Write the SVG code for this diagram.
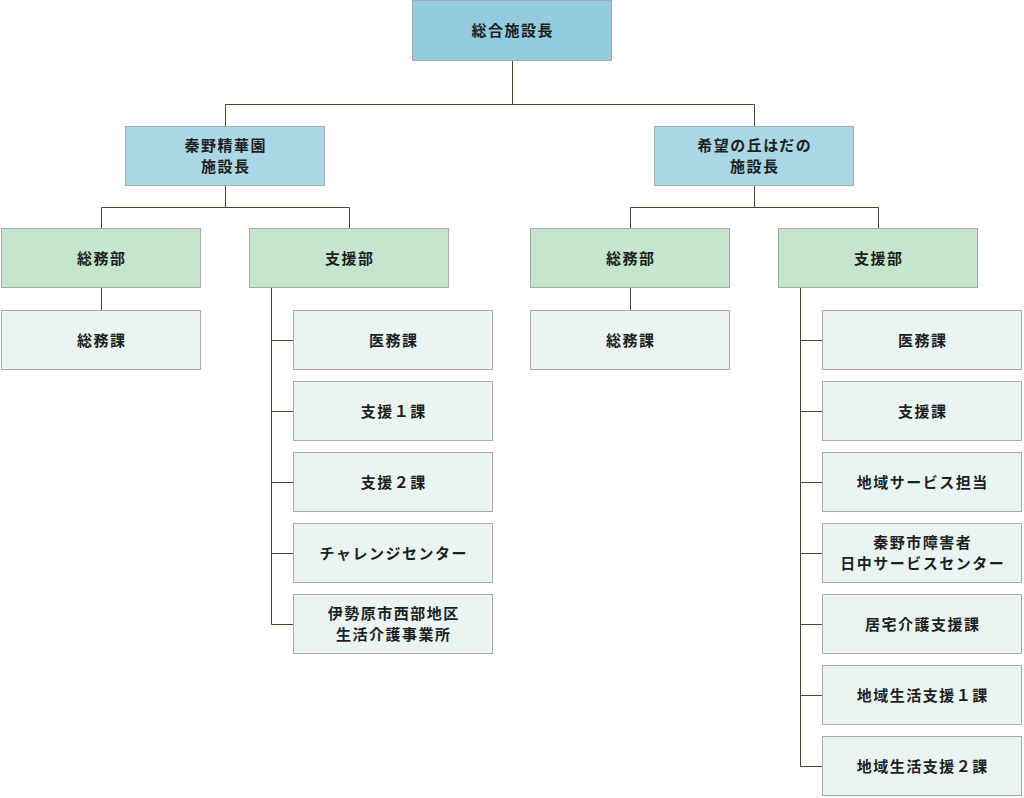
<svg xmlns="http://www.w3.org/2000/svg" width="1024" height="798" viewBox="0 0 1024 798">
<style>
.n rect{stroke:#aaaaaa;stroke-width:1}
.t0{fill:#93cbe0}
.t1{fill:#a9d7e6}
.t2{fill:#c5e6cc}
.t3{fill:#eaf5f3}
text{font-family:"Noto Sans CJK JP","Noto Sans CJK SC",sans-serif;font-size:15px;font-weight:bold;fill:#1e1e1e;text-anchor:middle;dominant-baseline:central;letter-spacing:1.5px}
#connectors path{fill:none;stroke:#4b4530;stroke-width:1}
</style>
<g id="connectors">
<path d="M512.5 61V104.5M225.5 126V104.5H754.5V126"/>
<path d="M225.5 186V207.5M101.5 228V207.5H349.5V228"/>
<path d="M754.5 186V207.5M630.5 228V207.5H878.5V228"/>
<path d="M101.5 288V310"/>
<path d="M630.5 288V310"/>
<path d="M271.5 288V624.5H293M271.5 340.5H293M271.5 411.5H293M271.5 482.5H293M271.5 553.5H293"/>
<path d="M800.5 288V766.5H822M800.5 340.5H822M800.5 411.5H822M800.5 482.5H822M800.5 553.5H822M800.5 624.5H822M800.5 695.5H822"/>
</g>
<g id="n-top" class="n"><rect class="t0" x="412.5" y="0.5" width="199" height="60"/><text x="512.75" y="29">総合施設長</text></g>
<g id="n-hadano" class="n"><rect class="t1" x="125.5" y="126.5" width="199" height="59"/><text x="225.75" y="144.5">秦野精華園</text><text x="225.75" y="165.5">施設長</text></g>
<g id="n-kibou" class="n"><rect class="t1" x="654.5" y="126.5" width="199" height="59"/><text x="754.75" y="144.5">希望の丘はだの</text><text x="754.75" y="165.5">施設長</text></g>
<g id="n-l-soumubu" class="n"><rect class="t2" x="1.5" y="228.5" width="199" height="59"/><text x="101.75" y="257">総務部</text></g>
<g id="n-l-shienbu" class="n"><rect class="t2" x="249.5" y="228.5" width="199" height="59"/><text x="349.75" y="257">支援部</text></g>
<g id="n-r-soumubu" class="n"><rect class="t2" x="530.5" y="228.5" width="199" height="59"/><text x="630.75" y="257">総務部</text></g>
<g id="n-r-shienbu" class="n"><rect class="t2" x="778.5" y="228.5" width="199" height="59"/><text x="878.75" y="257">支援部</text></g>
<g id="n-l-soumuka" class="n"><rect class="t3" x="1.5" y="310.5" width="199" height="59"/><text x="101.75" y="339">総務課</text></g>
<g id="n-r-soumuka" class="n"><rect class="t3" x="530.5" y="310.5" width="199" height="59"/><text x="630.75" y="339">総務課</text></g>
<g id="n-l-imu" class="n"><rect class="t3" x="293.5" y="310.5" width="199" height="59"/><text x="393.75" y="339">医務課</text></g>
<g id="n-l-shien1" class="n"><rect class="t3" x="293.5" y="381.5" width="199" height="59"/><text x="393.75" y="410">支援１課</text></g>
<g id="n-l-shien2" class="n"><rect class="t3" x="293.5" y="452.5" width="199" height="59"/><text x="393.75" y="481">支援２課</text></g>
<g id="n-l-challenge" class="n"><rect class="t3" x="293.5" y="523.5" width="199" height="59"/><text x="393.75" y="552">チャレンジセンター</text></g>
<g id="n-l-isehara" class="n"><rect class="t3" x="293.5" y="594.5" width="199" height="59"/><text x="393.75" y="612.5">伊勢原市西部地区</text><text x="393.75" y="633.5">生活介護事業所</text></g>
<g id="n-r-imu" class="n"><rect class="t3" x="822.5" y="310.5" width="199" height="59"/><text x="922.75" y="339">医務課</text></g>
<g id="n-r-shien" class="n"><rect class="t3" x="822.5" y="381.5" width="199" height="59"/><text x="922.75" y="410">支援課</text></g>
<g id="n-r-chiiki" class="n"><rect class="t3" x="822.5" y="452.5" width="199" height="59"/><text x="922.75" y="481">地域サービス担当</text></g>
<g id="n-r-hadano" class="n"><rect class="t3" x="822.5" y="523.5" width="199" height="59"/><text x="922.75" y="541.5">秦野市障害者</text><text x="922.75" y="562.5">日中サービスセンター</text></g>
<g id="n-r-kyotaku" class="n"><rect class="t3" x="822.5" y="594.5" width="199" height="59"/><text x="922.75" y="623">居宅介護支援課</text></g>
<g id="n-r-chiiki1" class="n"><rect class="t3" x="822.5" y="665.5" width="199" height="59"/><text x="922.75" y="694">地域生活支援１課</text></g>
<g id="n-r-chiiki2" class="n"><rect class="t3" x="822.5" y="736.5" width="199" height="59"/><text x="922.75" y="765">地域生活支援２課</text></g>
</svg>
